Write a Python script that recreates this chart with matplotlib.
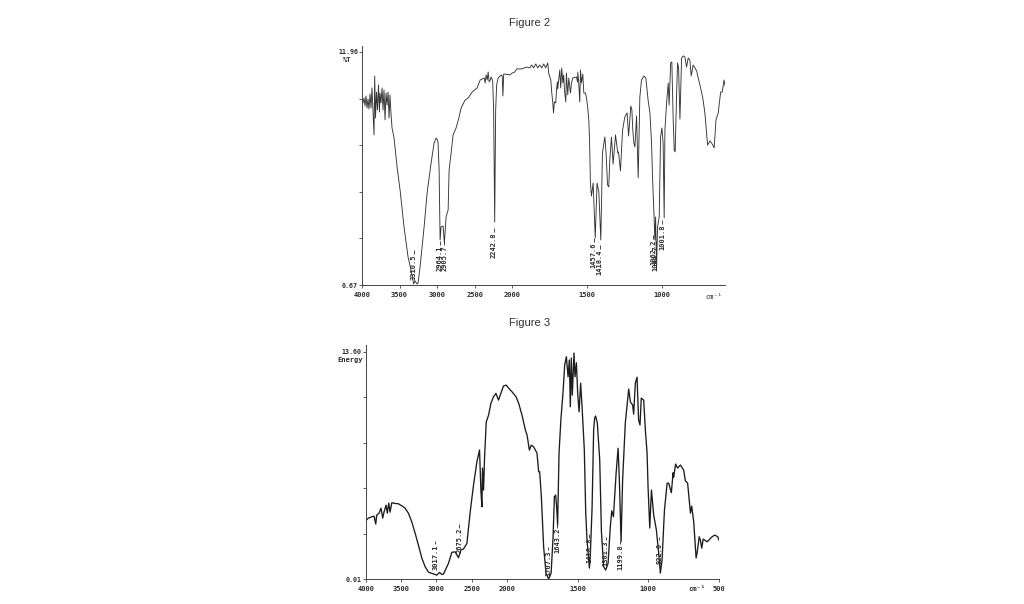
# Two scanned IR spectra, Figure 2 (%T) and Figure 3 (Energy)

import numpy as np
from matplotlib import pyplot as plt

# Figure 2 trace

wn2 = [3987,3973,3960,3947,3933,3920,3907,3893,3880,3867,3853,3840,3831,3820,3807,3793,3780,3767,3760,3747,
       3733,3720,3707,3693,3680,3667,3653,3640,3627,3613,3600,3573,3533,3493,3440,3387,3333,3313,3293,3267,
       3253,3227,3173,3133,3080,3040,3013,2993,2987,2973,2960,2947,2920,2903,2880,2853,2840,2813,2787,2747,
       2707,2680,2627,2587,2533,2467,2427,2373,2360,2347,2333,2320,2307,2293,2280,2260,2247,2233,2220,2207,
       2187,2160,2147,2133,2124,2113,2093,2027,2000,
       1983,1970,1937,1917,1903,1883,1870,1857,1843,1830,1817,1803,1790,1777,1763,1757,1743,1737,1730,1725,
       1719,1710,1705,1699,1697,1683,1677,1670,1663,1657,1652,1643,1639,1630,1623,1612,1605,1597,1572,1565,
       1563,1557,1550,1545,1539,1530,1523,1512,1505,1497,1490,1485,1479,1472,1461,1447,1435,1423,1410,1399,
       1383,1375,1365,1357,1350,1339,1328,1312,1297,1292,1279,1265,1250,1235,1225,1210,1203,1197,1190,1183,
       1172,1161,1150,1139,1123,1110,1095,1083,1072,1065,1057,1050,1045,1039,1032,1021,1012,1003,995,988,
       983,972,961,955,945,937,928,921,915,905,899,892,883,872,861,850,839,828,817,808,
       795,783,772,750,732,717,699,683,668,655,643,628,612,601,590,581]
t2 = [9.49,9.73,9.34,9.83,9.25,9.68,9.20,9.93,9.25,10.22,9.05,7.94,10.80,8.76,10.02,9.15,10.36,9.05,9.97,9.49,
      10.22,9.15,10.12,8.67,9.97,9.39,10.02,8.76,9.88,8.91,8.28,7.79,6.39,5.27,3.48,2.03,1.16,0.72,0.87,0.72,
      0.77,1.54,3.48,5.13,6.58,7.55,7.79,7.70,7.55,6.24,2.85,3.48,3.53,2.71,3.97,4.31,6.24,7.07,7.94,8.28,
      8.81,9.25,9.63,9.73,10.02,10.22,10.60,10.70,10.46,10.85,10.60,10.99,10.51,10.60,10.75,10.56,9.15,3.72,9.15,10.36,
      10.70,10.80,10.85,10.80,9.83,10.89,10.89,10.85,10.94,
      10.99,11.14,11.14,11.19,11.23,11.19,11.33,11.19,11.38,11.19,11.33,11.19,11.38,11.19,11.43,10.94,10.60,10.02,9.54,9.01,
      9.54,9.49,10.12,10.51,10.17,11.09,10.22,11.19,10.46,10.85,10.12,9.54,10.94,9.88,10.70,9.97,10.46,10.70,10.75,10.51,
      10.99,10.46,9.54,11.09,10.46,10.89,9.97,9.97,9.73,9.25,8.67,7.70,5.61,4.98,5.61,2.95,5.61,5.18,2.85,7.07,
      7.84,7.07,5.52,5.42,6.73,7.84,6.53,7.94,7.07,7.12,6.20,8.18,8.81,9.01,7.89,9.34,9.15,8.18,7.55,7.36,
      8.86,5.86,9.78,10.60,10.80,10.70,9.63,9.01,7.55,5.76,4.31,2.85,3.97,1.40,3.48,3.97,7.84,8.28,7.55,3.92,
      8.18,9.49,10.46,9.39,11.43,11.48,8.67,7.21,7.12,9.97,11.43,11.19,8.71,11.67,11.77,11.72,11.23,11.67,11.57,10.80,
      11.33,11.19,11.04,10.36,9.78,9.01,7.45,7.65,7.50,7.31,8.67,9.01,10.02,10.02,10.60,10.27]

# Figure 3 trace

wn3 = [4000,3963,3915,3882,3858,3844,3811,3783,3759,3741,3712,3694,3674,3655,3631,3585,3538,3490,3443,3396,
       3348,3301,3254,3206,3159,3112,3064,3017,2993,2956,2922,2900,2866,2829,2781,2734,2687,2653,2616,2568,
       2545,2521,2474,2426,2389,2369,2355,2347,2332,2318,2294,2261,2227,2191,2157,2120,2086,2049,2010,
       1989,1965,1936,1918,1894,1870,1858,1842,1828,1812,1788,1776,1769,1757,1741,1724,1705,1688,1674,1665,
       1656,1649,1642,1632,1618,1604,1592,1580,1568,1559,1552,1545,1538,1526,1519,1509,1500,1490,1479,1469,
       1453,1443,1434,1417,1410,1398,1387,1380,1373,1361,1344,1332,1316,1302,1285,1269,1259,1247,1228,1214,1205,1193,
       1182,1163,1139,1127,1111,1104,1092,1080,1069,1059,1050,1033,1021,1009,1002,990,978,962,943,927,
       915,903,886,867,856,837,825,821,807,793,773,750,738,722,702,693,679,662,655,640,
       632,622,612,584,549,530,509,500]
e3 = [3.50,3.66,3.74,3.78,3.31,3.84,3.96,4.26,3.66,4.02,4.44,3.96,4.56,4.02,4.58,4.54,4.52,4.40,4.26,3.96,
      3.44,2.77,2.05,1.28,0.76,0.44,0.36,0.30,0.26,0.42,0.30,0.32,0.62,0.96,1.62,1.65,1.30,1.76,1.82,2.15,
      3.07,4.04,5.64,7.03,7.73,5.24,4.34,6.65,5.34,7.25,9.41,9.81,10.53,10.91,11.11,10.71,11.13,11.56,11.60,
      11.43,11.21,10.91,10.53,9.81,8.92,8.62,7.73,8.02,7.92,7.55,6.43,6.43,4.94,1.95,0.38,0.02,0.38,2.55,4.94,
      5.04,4.34,3.25,7.55,9.64,11.13,12.80,13.30,12.10,13.10,10.31,13.22,11.01,13.52,12.10,12.94,11.13,10.01,11.72,10.31,
      7.73,3.96,2.35,0.68,1.58,4.32,8.92,9.64,9.76,9.34,7.13,2.85,0.76,0.56,0.96,3.15,4.10,3.74,6.35,7.84,5.93,2.25,
      5.93,9.34,11.37,10.61,10.41,9.87,11.72,12.08,9.52,9.22,10.83,10.71,8.92,7.55,5.53,3.07,5.34,3.84,2.95,1.58,
      0.38,1.16,4.14,5.75,5.75,5.18,6.37,6.11,6.89,6.65,6.83,6.53,5.89,5.75,3.96,4.38,3.44,1.28,1.58,2.55,
      2.35,1.87,2.41,2.25,2.55,2.65,2.55,2.35]

# Axis ticks

xticks2 = [4000,3500,3000,2500,2000,1500,1000]
xticks3 = [4000,3500,3000,2500,2000,1500,1000,500]
yticks2 = [0.67,2.93,5.19,7.44,9.70,11.96]
yticks3 = [0.01,2.73,5.45,8.16,10.88,13.60]
ylabs2 = ['0.67','','','','','11.96']
ylabs3 = ['0.01','','','','','13.60']

# Peak labels and the height each one is printed at

peaks2 = ['3310.5','2964.1','2905.7','2242.8','1457.6','1418.4','1062.2','1044.7','1001.8']
peaky2 = [1.54,1.98,1.98,2.61,2.13,1.79,2.27,1.98,3.00]
peaks3 = ['3017.1','2675.2','1707.3','1643.2','1418.8','1301.3','1199.8','922.0']
peaky3 = [1.34,2.35,0.98,2.35,1.75,1.58,1.34,1.58]

W, H = 1024, 604
ink = '#2b2b2b'
mono = 'DejaVu Sans Mono'

# Instrument chart: the wavenumber scale doubles below 2000

def fwd(x):
    x = np.asarray(x, dtype=float)
    return np.where(x <= 2000, x/1000, 2 + (x-2000)/2000)

def inv(p):
    p = np.asarray(p, dtype=float)
    return np.where(p <= 2, p*1000, 2000 + (p-2)*2000)

def panel(left, right, top, bottom, xlim, ylim, xticks, yticks, ylabs):
    ax = fig.add_axes([left/W, 1-bottom/H, (right-left)/W, (bottom-top)/H])
    ax.set_xscale('function', functions=(fwd, inv))
    ax.set_xlim(*xlim)
    ax.set_ylim(*ylim)
    ax.set_xticks(xticks)
    ax.set_xticklabels([str(i) for i in xticks], family=mono, fontsize=5, weight='bold', color=ink)
    ax.set_yticks(yticks)
    ax.set_yticklabels(ylabs, family=mono, fontsize=4.8, weight='bold', color=ink)
    ax.minorticks_off()
    ax.tick_params(length=2.5, width=0.6, color='#444444', pad=0.4)
    ax.tick_params(axis='x', pad=2.6)
    ax.spines['top'].set_visible(False)
    ax.spines['right'].set_visible(False)
    ax.spines['left'].set_color('#444444')
    ax.spines['bottom'].set_color('#444444')
    ax.spines['left'].set_linewidth(0.7)
    ax.spines['bottom'].set_linewidth(0.7)
    ax.patch.set_alpha(0)
    return ax

def label_peaks(ax, labs, ys, half, dash):
    for lab, y in zip(labs, ys):
        ax.text(float(lab), y, lab, rotation=90, ha='center', va='center', family=mono,
                fontsize=5, weight='bold', color=ink, clip_on=False)
        ax.vlines(float(lab), y+half, y+half+dash, color=ink, linewidth=0.6)

fig = plt.figure(figsize=(W/100, H/100), dpi=100)

# (1) Figure 2

ax2 = panel(362, 725.3, 46, 285, (4000, 581), (0.67, 12.25), xticks2, yticks2, ylabs2)
ax2.plot(wn2, t2, color='#333333', linewidth=0.65)
label_peaks(ax2, peaks2, peaky2, 0.62, 0.2)

# (2) Figure 3

ax3 = panel(365.7, 719, 345, 579.3, (4000, 500), (0.01, 14.0), xticks3, yticks3, ylabs3)
ax3.plot(wn3, e3, color='#1c1c1c', linewidth=0.95)
label_peaks(ax3, peaks3, peaky3, 0.75, 0.2)

# Titles and unit labels

fig.text(530/W, 1-23/H, 'Figure 2', ha='center', va='center', family='Liberation Sans', fontsize=8, color='#303030')
fig.text(530/W, 1-323/H, 'Figure 3', ha='center', va='center', family='Liberation Sans', fontsize=8, color='#303030')
fig.text(347/W, 1-60/H, '%T', ha='center', va='center', family=mono, fontsize=5, weight='bold', color=ink)
fig.text(350/W, 1-360/H, 'Energy', ha='center', va='center', family=mono, fontsize=5, weight='bold', color=ink)
fig.text(714/W, 1-297/H, 'cm⁻¹', ha='center', va='center', family=mono, fontsize=5, color=ink)
fig.text(697/W, 1-589/H, 'cm⁻¹', ha='center', va='center', family=mono, fontsize=5, weight='bold', color=ink)

fig.savefig('out.png', dpi=100)
